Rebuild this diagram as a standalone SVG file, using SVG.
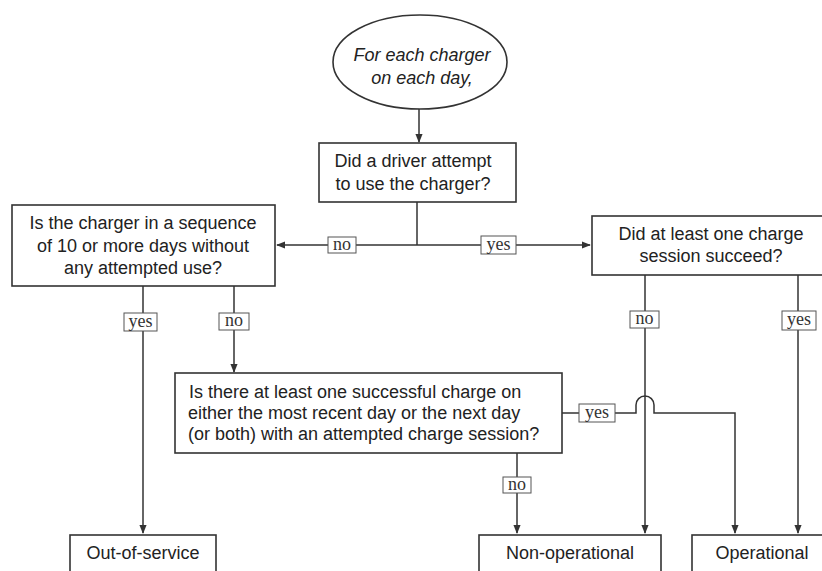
<svg xmlns="http://www.w3.org/2000/svg" width="822" height="571" viewBox="0 0 822 571">
<defs>
<marker id="ah" viewBox="0 0 10 10" refX="9" refY="5" markerWidth="9" markerHeight="9" markerUnits="userSpaceOnUse" orient="auto">
<path d="M0,1 L10,5 L0,9 z" fill="#333"/>
</marker>
<style>
.box{fill:#fff;stroke:#333;stroke-width:1.6}
.t{font-family:"Liberation Sans",Arial,sans-serif;font-size:18px;fill:#222;text-anchor:middle}
.ti{font-style:italic}
.c{fill:none;stroke:#333;stroke-width:1.5}
.lb{fill:#fff;stroke:#555;stroke-width:1}
.l{font-family:"Liberation Serif","Times New Roman",serif;font-size:18px;fill:#333;text-anchor:middle}
</style>
</defs>
<rect width="822" height="571" fill="#fff"/>
<g id="connectors">
<path class="c" d="M419,108 L419,142" marker-end="url(#ah)"/>
<path class="c" d="M417,202 L417,245"/>
<path class="c" d="M417,245 L277,245" marker-end="url(#ah)"/>
<path class="c" d="M417,245 L590,245" marker-end="url(#ah)"/>
<path class="c" d="M143,286 L143,533" marker-end="url(#ah)"/>
<path class="c" d="M234,286 L234,372" marker-end="url(#ah)"/>
<path class="c" d="M645,275 L645,533" marker-end="url(#ah)"/>
<path class="c" d="M798,275 L798,533" marker-end="url(#ah)"/>
<path class="c" d="M517,453 L517,533" marker-end="url(#ah)"/>
<path class="c" d="M562,413 L636,413 L636,405 A9,9 0 0 1 654,405 L654,413 L735,413 L735,533" marker-end="url(#ah)"/>
<rect class="lb" x="328" y="237" width="28" height="16"/><text class="l" x="342" y="250">no</text>
<rect class="lb" x="481" y="236" width="35" height="18"/><text class="l" x="498.5" y="250">yes</text>
<rect class="lb" x="124" y="313" width="33" height="18"/><text class="l" x="140.5" y="327">yes</text>
<rect class="lb" x="219" y="313" width="30" height="17"/><text class="l" x="234" y="326">no</text>
<rect class="lb" x="630" y="311" width="29" height="17"/><text class="l" x="644.5" y="324">no</text>
<rect class="lb" x="782" y="311" width="34" height="19"/><text class="l" x="799" y="325">yes</text>
<rect class="lb" x="579" y="404" width="36" height="18"/><text class="l" x="597" y="418">yes</text>
<rect class="lb" x="503" y="477" width="28" height="16"/><text class="l" x="517" y="490">no</text>
</g>
<g id="start">
<ellipse class="box" cx="420" cy="62" rx="87" ry="47"/>
<text class="t ti" x="422" y="61">For each charger</text>
<text class="t ti" x="422" y="84">on each day,</text>
</g>
<g id="q1">
<rect class="box" x="319" y="143" width="197" height="59"/>
<text class="t" x="413" y="167">Did a driver attempt</text>
<text class="t" x="413" y="190">to use the charger?</text>
</g>
<g id="q2">
<rect class="box" x="12" y="205" width="263" height="81"/>
<text class="t" x="143" y="229">Is the charger in a sequence</text>
<text class="t" x="143" y="252">of 10 or more days without</text>
<text class="t" x="143" y="274">any attempted use?</text>
</g>
<g id="q3">
<rect class="box" x="592" y="216" width="240" height="59"/>
<text class="t" x="711" y="240">Did at least one charge</text>
<text class="t" x="711" y="262">session succeed?</text>
</g>
<g id="q4">
<rect class="box" x="175" y="373" width="387" height="80"/>
<text class="t" x="189" y="398" style="text-anchor:start">Is there at least one successful charge on</text>
<text class="t" x="188" y="419" style="text-anchor:start">either the most recent day or the next day</text>
<text class="t" x="188" y="440" style="text-anchor:start">(or both) with an attempted charge session?</text>
</g>
<g id="out">
<rect class="box" x="70" y="535" width="146" height="50"/>
<text class="t" x="143" y="559">Out-of-service</text>
</g>
<g id="nonop">
<rect class="box" x="479" y="535" width="182" height="50"/>
<text class="t" x="570" y="559">Non-operational</text>
</g>
<g id="op">
<rect class="box" x="692" y="535" width="140" height="50"/>
<text class="t" x="762" y="559">Operational</text>
</g>
</svg>
